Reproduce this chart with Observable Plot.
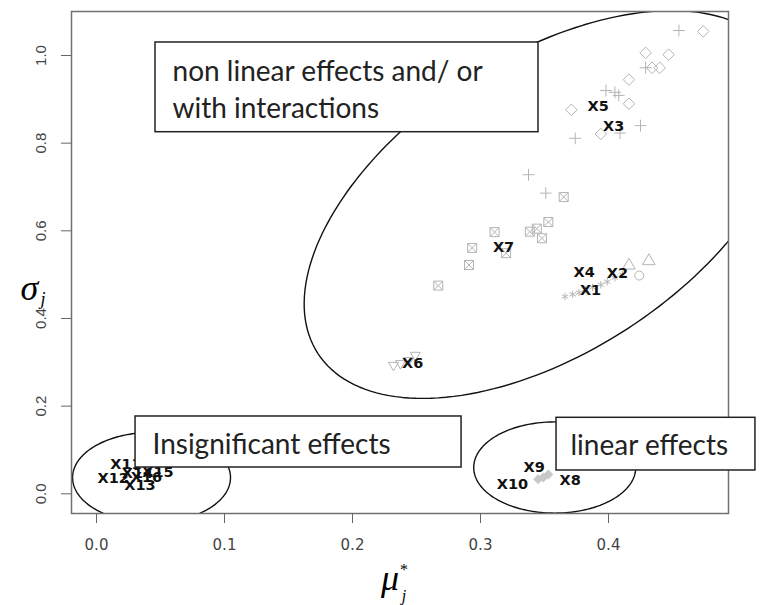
<!DOCTYPE html>
<html><head><meta charset="utf-8">
<script src="https://cdn.jsdelivr.net/npm/d3@7"></script>
<script src="https://cdn.jsdelivr.net/npm/@observablehq/plot@0.6"></script>
<style>body{margin:0;background:#fff} #chart{width:772px;height:605px}</style>
</head><body><div id="chart"></div>
<script>
// ---- tick labels ----
const xTicks = [0.0, 0.1, 0.2, 0.3, 0.4];
const yTicks = [0.0, 0.2, 0.4, 0.6, 0.8, 1.0];

// ---- labelled factors (mu*, sigma) ----
const labelNames = ["X1","X2","X3","X4","X5","X6","X7","X8","X9","X10","X11","X12","X13","X14","X15","X16","X17"];
const labelMu    = [0.386,0.407,0.404,0.381,0.392,0.247,0.318,0.370,0.342,0.325,0.023,0.013,0.034,0.032,0.048,0.039,0.084];
const labelSigma = [0.464,0.503,0.838,0.506,0.884,0.298,0.563,0.030,0.061,0.021,0.067,0.035,0.019,0.046,0.049,0.037,0.071];

// ---- grey replicate markers, one series per symbol ----
const diamondMu    = [0.474,0.429,0.447,0.434,0.440,0.416,0.416,0.371,0.394];
const diamondSigma = [1.055,1.006,1.002,0.972,0.972,0.945,0.890,0.876,0.821];
const plusMu       = [0.455,0.398,0.405,0.408,0.429,0.425,0.409,0.374,0.3375,0.351];
const plusSigma    = [1.057,0.920,0.916,0.909,0.972,0.840,0.823,0.811,0.728,0.686];
const boxMu        = [0.365,0.353,0.344,0.3385,0.348,0.311,0.2935,0.291,0.267,0.320];
const boxSigma     = [0.677,0.620,0.605,0.598,0.583,0.597,0.561,0.522,0.475,0.549];
const triMu        = [0.4315,0.416];
const triSigma     = [0.531,0.521];
const circleMu     = [0.424];
const circleSigma  = [0.498];
const starMu       = [0.366,0.372,0.377,0.382,0.3875,0.394,0.399,0.405,0.411];
const starSigma    = [0.450,0.455,0.459,0.466,0.471,0.477,0.484,0.493,0.500];
const downMu       = [0.249,0.2375,0.232,0.244];
const downSigma    = [0.316,0.297,0.293,0.304];
const fillDiaMu    = [0.349,0.353,0.345];
const fillDiaSigma = [0.037,0.044,0.033];

// ---- annotation regions (ellipses: centre + axis vectors, data units) ----
const ellipseNames = ["nonlinear","insignificant","linear"];
const ellipseCx = [0.352, 0.043, 0.358];
const ellipseCy = [0.660, 0.037, 0.060];
const ellipseAx = [[0.179, 0.340], [0.0617, 0], [0.0633, 0]];
const ellipseBx = [[0.063, -0.283], [0, 0.103], [0, 0.104]];

// ---- annotation boxes ----
const boxText  = ["non linear effects and/ or\nwith interactions", "Insignificant effects", "linear effects"];
const boxX1    = [0.0461, 0.0305, 0.3594];
const boxX2    = [0.3453, 0.2852, 0.5148];
const boxY1    = [1.0297, 0.1764, 0.1734];
const boxY2    = [0.8250, 0.0600, 0.0532];
const boxTextX = [0.0594, 0.04375, 0.3703];
const boxTextY = [0.9258, 0.117, 0.1149];

// ---- build tables ----
const zip = (mu, s) => mu.map((m, i) => ({mu: m, sigma: s[i]}));
const labels = labelNames.map((n, i) => ({name: n, mu: labelMu[i], sigma: labelSigma[i]}));
const ellipsePts = [];
ellipseNames.forEach((n, k) => {
  for (let a = 0; a <= 360; a += 2) {
    const t = a * Math.PI / 180;
    ellipsePts.push({id: n,
      mu: ellipseCx[k] + Math.cos(t) * ellipseAx[k][0] + Math.sin(t) * ellipseBx[k][0],
      sigma: ellipseCy[k] + Math.cos(t) * ellipseAx[k][1] + Math.sin(t) * ellipseBx[k][1]});
  }
});
const boxes = boxText.map((t, i) => ({text: t, x1: boxX1[i], x2: boxX2[i], y1: boxY1[i], y2: boxY2[i], tx: boxTextX[i], ty: boxTextY[i]}));

// custom symbols
const boxTimes = {draw(ctx, size) { const s = Math.sqrt(size / Math.PI) * 0.9;
  ctx.moveTo(-s, -s); ctx.lineTo(s, -s); ctx.lineTo(s, s); ctx.lineTo(-s, s); ctx.closePath();
  ctx.moveTo(-s, -s); ctx.lineTo(s, s); ctx.moveTo(s, -s); ctx.lineTo(-s, s); }};
const triDown = {draw(ctx, size) { const r = Math.sqrt(size / Math.PI);
  ctx.moveTo(-r, -r * 0.6); ctx.lineTo(r, -r * 0.6); ctx.lineTo(0, r * 1.1); ctx.closePath(); }};

const grey = "#b4b4b4";
const boxFont = "Lato";

const chart = Plot.plot({
  width: 772, height: 605,
  marginLeft: 71, marginRight: 44, marginTop: 11, marginBottom: 92,
  x: {domain: [-0.01953, 0.49375]},
  y: {domain: [-0.04495, 1.1004]},
  style: {background: "#fff"},
  marks: [
    Plot.dot(zip(diamondMu, diamondSigma), {x: "mu", y: "sigma", symbol: "diamond2", r: 5.2, stroke: grey, fill: "none", strokeWidth: 1}),
    Plot.dot(zip(plusMu, plusSigma), {x: "mu", y: "sigma", symbol: "plus", r: 3.9, stroke: grey, strokeWidth: 1}),
    Plot.dot(zip(boxMu, boxSigma), {x: "mu", y: "sigma", symbol: boxTimes, r: 5, stroke: grey, fill: "none", strokeWidth: 1}),
    Plot.dot(zip(triMu, triSigma), {x: "mu", y: "sigma", symbol: "triangle2", r: 6, stroke: grey, fill: "none", strokeWidth: 1}),
    Plot.dot(zip(circleMu, circleSigma), {x: "mu", y: "sigma", symbol: "circle", r: 4.5, stroke: grey, fill: "none", strokeWidth: 1}),
    Plot.dot(zip(starMu, starSigma), {x: "mu", y: "sigma", symbol: "asterisk", r: 3.5, stroke: grey, strokeWidth: 1}),
    Plot.dot(zip(downMu, downSigma), {x: "mu", y: "sigma", symbol: triDown, r: 5, stroke: grey, fill: "none", strokeWidth: 1}),
    Plot.dot(zip(fillDiaMu, fillDiaSigma), {x: "mu", y: "sigma", symbol: "diamond2", r: 4.5, fill: "#c8c8c8", stroke: "none"}),
    Plot.text(labels, {x: "mu", y: "sigma", text: "name", fontFamily: "DejaVu Sans", fontWeight: "bold", fontSize: 14.5, fill: "#111"}),
    Plot.line(ellipsePts, {x: "mu", y: "sigma", z: "id", stroke: "#111", strokeWidth: 1.4, clip: true}),
    Plot.frame({stroke: "#707070", strokeWidth: 1.5}),
    Plot.axisX(xTicks, {tickSize: 10, tickPadding: 16, tickFormat: d3.format(".1f"), fontFamily: "DejaVu Sans", fontSize: 15, stroke: "#666", fill: "#444", label: null}),
    Plot.axisY(yTicks, {tickSize: 10, tickPadding: 16, tickRotate: -90, tickFormat: d3.format(".1f"), fontFamily: "Liberation Sans", fontSize: 15, stroke: "#666", fill: "#444", label: null}),
    Plot.rect(boxes, {x1: "x1", x2: "x2", y1: "y1", y2: "y2", fill: "#fff", stroke: "#222", strokeWidth: 1.5}),
    Plot.text(boxes, {x: "tx", y: "ty", text: "text", textAnchor: "start", lineAnchor: "middle", lineHeight: 1.32, fontFamily: boxFont, fontSize: 28, fill: "#222"}),
    Plot.text(["σ"], {frameAnchor: "left", text: d => d, dx: -51, dy: 26, fontFamily: "Liberation Serif", fontStyle: "italic", fontSize: 36, fill: "#000"}),
    Plot.text(["j"], {frameAnchor: "left", text: d => d, dx: -31, dy: 37, fontFamily: "Liberation Serif", fontStyle: "italic", fontSize: 18, fill: "#000"}),
    Plot.text(["μ"], {frameAnchor: "bottom", text: d => d, dx: -10, dy: 76, fontFamily: "Liberation Serif", fontStyle: "italic", fontSize: 36, fill: "#000"}),
    Plot.text(["*"], {frameAnchor: "bottom", text: d => d, dx: 4, dy: 61, fontFamily: "Liberation Serif", fontSize: 16, fill: "#000"}),
    Plot.text(["j"], {frameAnchor: "bottom", text: d => d, dx: 4, dy: 87, fontFamily: "Liberation Serif", fontStyle: "italic", fontSize: 16, fill: "#000"})
  ]
});
document.getElementById("chart").appendChild(chart);
</script>
</body></html>
